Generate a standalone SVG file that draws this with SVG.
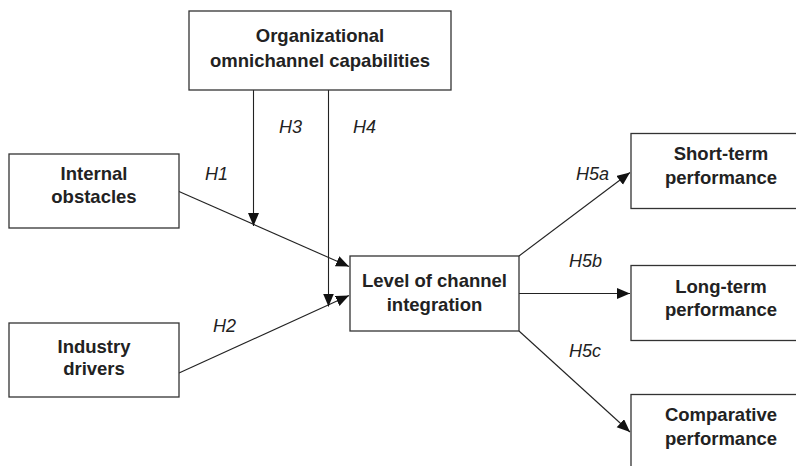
<svg xmlns="http://www.w3.org/2000/svg" width="796" height="466" viewBox="0 0 796 466">
<style>
.box{fill:#fff;stroke:#333;stroke-width:1.3}
.t{font-family:"Liberation Sans",Arial,sans-serif;font-weight:bold;font-size:18.5px;fill:#222;text-anchor:middle}
.h{font-family:"Liberation Sans",Arial,sans-serif;font-style:italic;font-size:18px;fill:#222}
.c{fill:none;stroke:#222;stroke-width:1.1}
</style>
<defs>
<marker id="ah" markerUnits="userSpaceOnUse" markerWidth="14" markerHeight="12" refX="13" refY="5.5" orient="auto" viewBox="0 0 14 12">
<path d="M0,0 L13,5.5 L0,11 z" fill="#111"/>
</marker>
</defs>
<rect width="796" height="466" fill="#fff"/>
<g id="connectors">
<path class="c" d="M179,191.5 L349,266.5" marker-end="url(#ah)"/>
<path class="c" d="M179,373 L349,295.5" marker-end="url(#ah)"/>
<path class="c" d="M253.5,90 L253.5,226" marker-end="url(#ah)"/>
<path class="c" d="M328.5,90 L328.5,306.5" marker-end="url(#ah)"/>
<path class="c" d="M519,256 L630,172.5" marker-end="url(#ah)"/>
<path class="c" d="M519,293.5 L630,293.5" marker-end="url(#ah)"/>
<path class="c" d="M519,331 L630,432" marker-end="url(#ah)"/>
<text class="h" x="205" y="180">H1</text>
<text class="h" x="213" y="332">H2</text>
<text class="h" x="279" y="133">H3</text>
<text class="h" x="353" y="133">H4</text>
<text class="h" x="576" y="180">H5a</text>
<text class="h" x="569" y="267">H5b</text>
<text class="h" x="569" y="357">H5c</text>
</g>
<g id="n-org">
<rect class="box" x="189" y="11" width="262" height="79"/>
<text class="t" x="320" y="42">Organizational</text>
<text class="t" x="320" y="67">omnichannel capabilities</text>
</g>
<g id="n-internal">
<rect class="box" x="9" y="154" width="170" height="74"/>
<text class="t" x="94" y="180">Internal</text>
<text class="t" x="94" y="203">obstacles</text>
</g>
<g id="n-industry">
<rect class="box" x="9" y="323" width="170" height="74"/>
<text class="t" x="94" y="353">Industry</text>
<text class="t" x="94" y="375">drivers</text>
</g>
<g id="n-level">
<rect class="box" x="350" y="256" width="169" height="75"/>
<text class="t" x="434.5" y="287">Level of channel</text>
<text class="t" x="434.5" y="311">integration</text>
</g>
<g id="n-short">
<rect class="box" x="631" y="133.5" width="200" height="75"/>
<text class="t" x="721" y="159.5">Short-term</text>
<text class="t" x="721" y="184">performance</text>
</g>
<g id="n-long">
<rect class="box" x="631" y="265.5" width="200" height="75"/>
<text class="t" x="721" y="292.5">Long-term</text>
<text class="t" x="721" y="316">performance</text>
</g>
<g id="n-comp">
<rect class="box" x="631" y="394.5" width="200" height="80"/>
<text class="t" x="721" y="421">Comparative</text>
<text class="t" x="721" y="444.5">performance</text>
</g>
</svg>
